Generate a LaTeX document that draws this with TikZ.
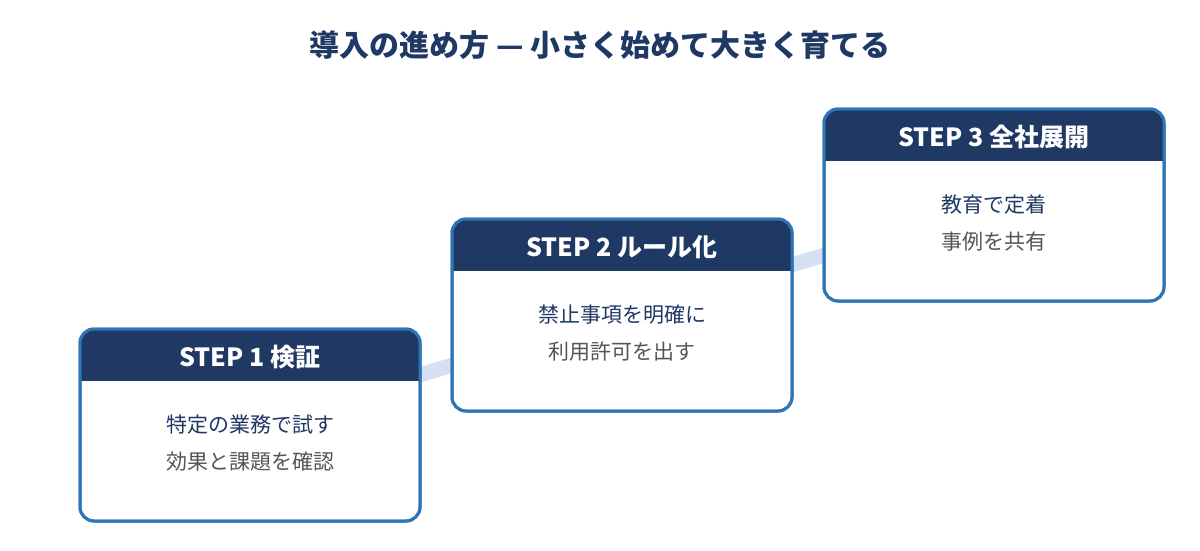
\documentclass[tikz,border=0pt]{standalone}
\usepackage{fontspec}
\setmainfont{Noto Sans CJK JP}
\usetikzlibrary{positioning}
\definecolor{navy}{HTML}{1F3864}
\definecolor{frame}{HTML}{2E75B6}
\definecolor{band}{HTML}{D6E0F5}
\definecolor{txtgray}{HTML}{555555}
\tikzset{
  stepbox/.style={draw=frame, line width=3pt, rounded corners=14pt, fill=white,
    minimum width=340pt, minimum height=192pt},
  stephead/.style={font=\bfseries\fontsize{25}{30}\selectfont, text=white},
  mainline/.style={font=\fontsize{21}{25}\selectfont, text=navy},
  subline/.style={font=\fontsize{21}{25}\selectfont, text=txtgray},
}
\begin{document}
\begin{tikzpicture}[x=1pt,y=-1pt]
\useasboundingbox (0,0) rectangle (1200,550);
\node[font=\bfseries\fontsize{30}{36}\selectfont, text=navy] (title) at (600,45) {導入の進め方 — 小さく始めて大きく育てる};

% band behind boxes
\coordinate (c1) at (250,425);
\coordinate (c2) at (622,315);
\coordinate (c3) at (994,205);
\draw[band, line width=15pt] (c1) -- (c2) -- (c3);

% boxes
\foreach \n/\x/\y in {1/250/425, 2/622/315, 3/994/205} {
  \node[stepbox] (box\n) at (\x,\y) {};
  \begin{scope}
    \clip[rounded corners=14pt] (\x-170,\y-96) rectangle (\x+170,\y+96);
    \fill[navy] (\x-170,\y-96) rectangle (\x+170,\y-44);
  \end{scope}
  \draw[frame, line width=3pt, rounded corners=14pt] (\x-170,\y-96) rectangle (\x+170,\y+96);
}

\node[stephead] (h1) at (250,357) {STEP 1 検証};
\node[stephead] (h2) at (622,247) {STEP 2 ルール化};
\node[stephead] (h3) at (994,137) {STEP 3 全社展開};

\node[mainline] (m1) at (250,425) {特定の業務で試す};
\node[subline, below=10pt of m1] (s1) {効果と課題を確認};
\node[mainline] (m2) at (622,315) {禁止事項を明確に};
\node[subline, below=10pt of m2] (s2) {利用許可を出す};
\node[mainline] (m3) at (994,205) {教育で定着};
\node[subline, below=10pt of m3] (s3) {事例を共有};
\end{tikzpicture}
\end{document}
